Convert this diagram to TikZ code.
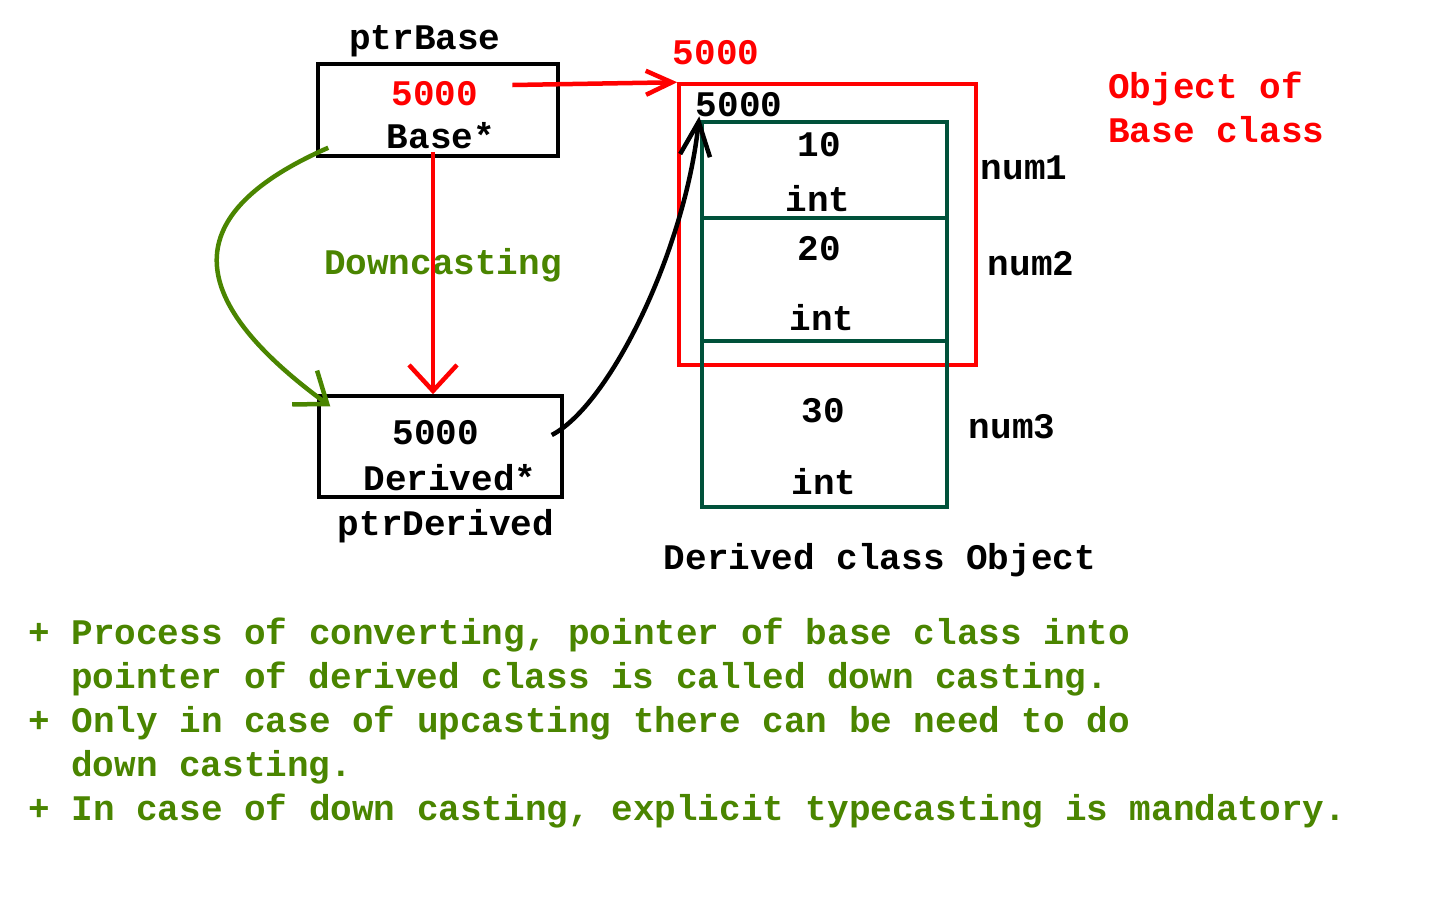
\documentclass[tikz,border=0pt]{standalone}
\usepackage{fontspec}
\setmonofont{Liberation Mono}
\usepackage{tikz}
\usetikzlibrary{
    arrows.meta,
    positioning,
    calc
}
\definecolor{dcred}{HTML}{FF0000}
\definecolor{dcgreen}{HTML}{4A8500}
\definecolor{dcdark}{HTML}{00513A}
\tikzset{
    % Code text
    codetext/.style={
        font=\fontsize{36}{44}\selectfont\ttfamily\bfseries,
        text=#1,
        inner sep=0pt,
        anchor=base
    },
    codetext/.default=black,
    % Note line
    notetext/.style={
        codetext=dcgreen,
        anchor=base west
    },
    % Pointer box
    ptrbox/.style={
        rectangle,
        draw=black,
        line width=3.5pt,
        inner sep=0pt
    },
    % Base part of the object
    objbox/.style={
        rectangle,
        draw=dcred,
        line width=3.5pt,
        inner sep=0pt
    },
    % Member cell
    cellbox/.style={
        rectangle,
        draw=dcdark,
        line width=3.5pt,
        minimum width=245pt,
        inner sep=0pt
    },
    % Arrow style
    ptrarrow/.style={
        -{Straight Barb[length=26pt,width=24pt]},
        line width=4.5pt,
        color=#1
    },
    ptrarrow/.default=black
}
\begin{document}
\begin{tikzpicture}[x=1pt, y=-1pt]
    \useasboundingbox (0,0) rectangle (1440,900);

    % Pointer boxes
    \node[ptrbox, minimum width=240pt, minimum height=92pt] (baseptr) at (438,110) {};
    \node[ptrbox, minimum width=243pt, minimum height=101pt] (derivedptr) at (440.5,446.5) {};

    \node[codetext] (baselabel) at (425,49) {ptrBase};
    \node[codetext=dcred] (baseaddr) at (435,105) {5000};
    \node[codetext] (basetype) at (441,148) {Base*};
    \node[codetext] (derivedaddr) at (436,444) {5000};
    \node[codetext] (derivedtype) at (450,490) {Derived*};
    \node[codetext] (derivedlabel) at (446,535) {ptrDerived};
    \node[codetext=dcgreen] (downlabel) at (443,274) {Downcasting};

    % Derived class object
    \node[objbox, minimum width=297pt, minimum height=281pt] (baseobj) at (827.5,224.5) {};
    \node[cellbox, minimum height=96pt] (cell1) at (824.5,170) {};
    \node[cellbox, minimum height=123pt] (cell2) at (824.5,279.5) {};
    \node[cellbox, minimum height=166pt] (cell3) at (824.5,424) {};

    \node[codetext=dcred] (objaddr) at (716,64) {5000};
    \node[codetext] (startaddr) at (739,116) {5000};
    \node[codetext] (val1) at (819,156) {10};
    \node[codetext] (type1) at (818,211) {int};
    \node[codetext] (val2) at (819,260) {20};
    \node[codetext] (type2) at (822,330) {int};
    \node[codetext] (val3) at (823,422) {30};
    \node[codetext] (type3) at (824,494) {int};
    \node[codetext] (name1) at (1024,179) {num1};
    \node[codetext] (name2) at (1031,275) {num2};
    \node[codetext] (name3) at (1012,438) {num3};
    \node[codetext=dcred, anchor=base west] (objtitle1) at (1108,98) {Object of};
    \node[codetext=dcred, anchor=base west] (objtitle2) at (1108,142) {Base class};
    \node[codetext] (objcaption) at (880,569) {Derived class Object};

    % Arrows
    \draw[ptrarrow=dcred] ($(baseaddr.base east)+(34,-20)$) -- (baseobj.north west);
    \draw[ptrarrow=dcred, -{Straight Barb[length=26pt,width=48pt]}]
        ([xshift=-8pt,yshift=-4pt]basetype.base) -- ([xshift=-8pt]basetype.base |- derivedptr.north);
    \draw[ptrarrow=dcgreen, -{Straight Barb[length=28pt,width=42pt]}]
        ([xshift=12pt,yshift=10pt]baseptr.south west) .. controls (180,213) and (180,296) ..
        ([xshift=13pt,yshift=-12pt]derivedptr.north west);
    \draw[ptrarrow, -{Straight Barb[length=34pt,width=30pt]}]
        ([xshift=-12pt,yshift=11.5pt]derivedptr.east) .. controls (610,405) and (685,250) ..
        ([xshift=-1pt,yshift=4pt]cell1.north west);

    % Notes
    \node[notetext] (note1) at (28,644) {+ Process of converting, pointer of base class into};
    \node[notetext] (note2) at (71,688) {pointer of derived class is called down casting.};
    \node[notetext] (note3) at (28,732) {+ Only in case of upcasting there can be need to do};
    \node[notetext] (note4) at (71,776) {down casting.};
    \node[notetext] (note5) at (28,820) {+ In case of down casting, explicit typecasting is mandatory.};

\end{tikzpicture}
\end{document}
